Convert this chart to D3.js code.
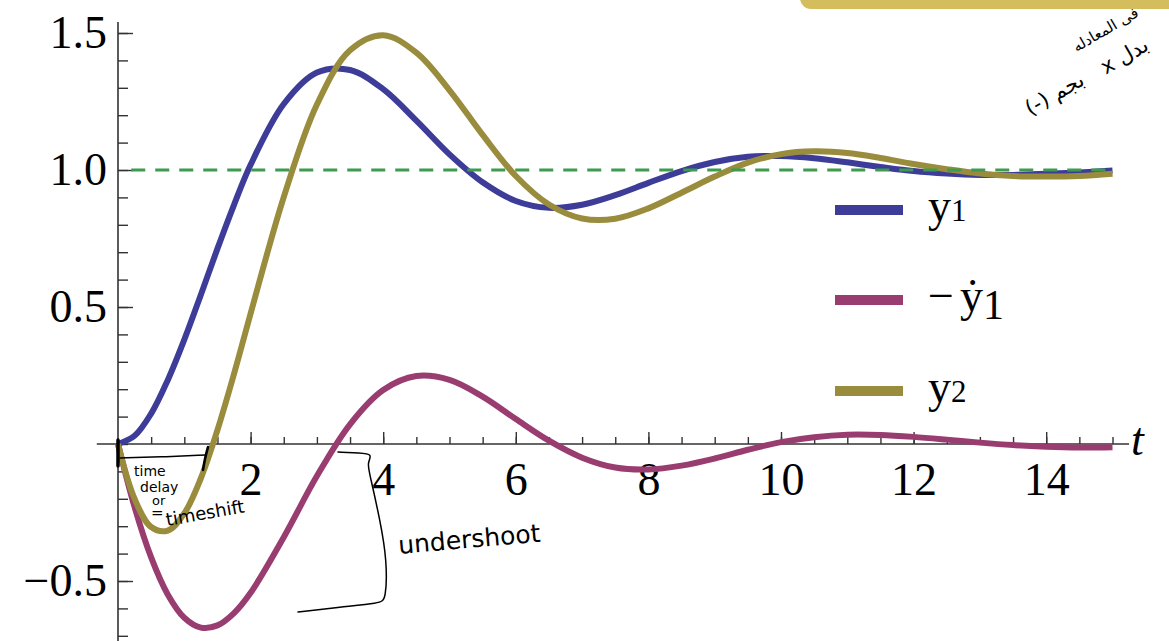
<!DOCTYPE html>
<html>
<head>
<meta charset="utf-8">
<script src="https://cdnjs.cloudflare.com/ajax/libs/d3/7.8.5/d3.min.js"></script>
<style>
  body { margin: 0; background: #fff; }
  svg { display: block; }
</style>
</head>
<body>
<svg id="chart" width="1169" height="641"></svg>
<script>
//data ------------------------------------------------------------------
var tValues = [0, 0.25, 0.5, 0.75, 1, 1.25, 1.5, 1.75, 2, 2.5, 3, 3.5, 4, 4.5, 5, 5.5, 6, 6.5,
  7, 7.5, 8, 8.5, 9, 9.5, 10, 10.5, 11, 11.5, 12, 12.5, 13, 13.5, 14, 14.5, 15];

var y1Values = [0, 0.030, 0.111, 0.233, 0.381, 0.545, 0.713, 0.873, 1.019, 1.241, 1.356, 1.365,
  1.295, 1.180, 1.057, 0.955, 0.887, 0.862, 0.873, 0.908, 0.953, 0.996, 1.029, 1.048, 1.051,
  1.043, 1.028, 1.011, 0.996, 0.987, 0.982, 0.982, 0.986, 0.991, 0.998];

var negDy1Values = [0, -0.230, -0.414, -0.549, -0.634, -0.670, -0.662, -0.617, -0.543, -0.340,
  -0.117, 0.072, 0.197, 0.248, 0.234, 0.173, 0.091, 0.012, -0.050, -0.086, -0.093, -0.079,
  -0.053, -0.021, 0.007, 0.025, 0.034, 0.033, 0.026, 0.016, 0.005, -0.004, -0.010, -0.013, -0.012];

var y2Values = [0, -0.200, -0.303, -0.316, -0.253, -0.125, 0.051, 0.256, 0.476, 0.901, 1.239,
  1.437, 1.492, 1.428, 1.291, 1.128, 0.978, 0.874, 0.823, 0.822, 0.860, 0.917, 0.976, 1.027,
  1.058, 1.068, 1.062, 1.044, 1.022, 1.003, 0.987, 0.978, 0.976, 0.978, 0.986];

var setpoint = 1;

var xMajorTicks = [2, 4, 6, 8, 10, 12, 14];
var yMajorTicks = [-0.5, 0.5, 1.0, 1.5];

var seriesNames = ['y1', '-dy1', 'y2'];
var seriesColors = ['#3d3d99', '#993d71', '#998c3d'];

//canvas + scales -------------------------------------------------------
var svg = d3.select('#chart');
var serif = '"Liberation Serif", "DejaVu Serif", serif';
var hand = '"DejaVu Sans", sans-serif';

var x = d3.scaleLinear().domain([0, 15]).range([118, 1112.5]);
var y = d3.scaleLinear().domain([-0.5, 1.5]).range([581, 33]);

//axes ------------------------------------------------------------------
var axisColor = '#333';

//x minor + major ticks (pointing up)
svg.append('g')
  .attr('transform', 'translate(0,' + y(0) + ')')
  .call(d3.axisTop(x).tickValues(d3.range(0.5, 15.01, 0.5)).tickSize(7).tickFormat(''))
  .call(function(g){ g.select('.domain').remove(); });

svg.append('g')
  .attr('transform', 'translate(0,' + y(0) + ')')
  .call(d3.axisTop(x).tickValues(xMajorTicks).tickSize(12).tickFormat(''))
  .call(function(g){ g.select('.domain').remove(); });

//x labels
svg.append('g')
  .attr('transform', 'translate(0,' + y(0) + ')')
  .call(d3.axisBottom(x).tickValues(xMajorTicks).tickSize(0).tickPadding(18))
  .call(function(g){ g.select('.domain').remove(); })
  .selectAll('text')
    .attr('font-family', serif)
    .attr('font-size', 46)
    .attr('fill', '#000');

//y minor + major ticks (pointing right)
svg.append('g')
  .attr('transform', 'translate(' + x(0) + ',0)')
  .call(d3.axisRight(y).tickValues(d3.range(-0.7, 1.55, 0.1)).tickSize(10).tickFormat(''))
  .call(function(g){ g.select('.domain').remove(); });

svg.append('g')
  .attr('transform', 'translate(' + x(0) + ',0)')
  .call(d3.axisRight(y).tickValues(yMajorTicks).tickSize(15).tickFormat(''))
  .call(function(g){ g.select('.domain').remove(); });

//y labels
svg.append('g')
  .attr('transform', 'translate(' + x(0) + ',0)')
  .call(d3.axisLeft(y).tickValues(yMajorTicks).tickSize(0).tickPadding(11).tickFormat(d3.format('.1f')))
  .call(function(g){ g.select('.domain').remove(); })
  .selectAll('text')
    .attr('font-family', serif)
    .attr('font-size', 46)
    .attr('fill', '#000');

svg.selectAll('.tick line').attr('stroke', axisColor).attr('stroke-width', 1.4);

//axis lines
svg.append('line')
  .attr('x1', x(-0.32)).attr('x2', x(15.25))
  .attr('y1', y(0)).attr('y2', y(0))
  .attr('stroke', axisColor).attr('stroke-width', 1.6);

svg.append('line')
  .attr('x1', x(0)).attr('x2', x(0))
  .attr('y1', y(1.54)).attr('y2', 641)
  .attr('stroke', axisColor).attr('stroke-width', 1.6);

svg.append('text')
  .attr('x', 1131).attr('y', 455)
  .attr('font-family', serif).attr('font-style', 'italic').attr('font-size', 46)
  .text('t');

//curves ----------------------------------------------------------------
var line = d3.line()
  .x(function(d){ return x(d[0]); })
  .y(function(d){ return y(d[1]); })
  .curve(d3.curveCatmullRom.alpha(0.5));

[y1Values, negDy1Values, y2Values].forEach(function(vals, i){
  svg.append('path')
    .datum(d3.zip(tValues, vals))
    .attr('d', line)
    .attr('fill', 'none')
    .attr('stroke', seriesColors[i])
    .attr('stroke-width', 6)
    .attr('stroke-linejoin', 'round');
});

//set point
svg.append('line')
  .attr('x1', x(0.2)).attr('x2', x(15))
  .attr('y1', y(setpoint)).attr('y2', y(setpoint))
  .attr('stroke', '#3d9a4f').attr('stroke-width', 3.2)
  .attr('stroke-dasharray', '14,10');

//legend ----------------------------------------------------------------
var legendY = [210, 300, 391];
var legend = svg.selectAll('.legend')
  .data(seriesNames)
  .enter().append('g')
    .attr('class', 'legend')
    .attr('transform', function(d, i){ return 'translate(0,' + legendY[i] + ')'; });

legend.append('line')
  .attr('x1', 835).attr('x2', 903)
  .attr('stroke', function(d, i){ return seriesColors[i]; })
  .attr('stroke-width', 10);

var lt = legend.append('text')
  .attr('x', 928).attr('y', 11)
  .attr('font-family', serif).attr('font-size', 46);

lt.each(function(d){
  var t = d3.select(this);
  if(d === '-dy1'){
    t.append('tspan').text('\u2212');
    t.append('tspan').attr('dx', 6).text('\u1E8F');
    t.append('tspan').attr('font-size', 42).attr('dy', 8).text('1');
  } else {
    t.append('tspan').text('y');
    t.append('tspan').attr('font-size', 31).text(d.slice(1));
  }
});

//notes scribbled on top ------------------------------------------------
svg.append('rect')
  .attr('x', 800).attr('y', -20).attr('width', 400).attr('height', 29).attr('rx', 11)
  .attr('fill', '#d3bd5c');

var pen = d3.line().curve(d3.curveBasis);
var strokes = [
  [[118, 440], [118, 466]],
  [[120, 458], [160, 457], [206, 455]],
  [[203, 470], [205, 458], [208, 447]],
  [[338, 452], [360, 453], [373, 454], [367, 463], [370, 475], [380, 520], [387, 560], [386, 600], [380, 603], [340, 607], [298, 612]]
];
strokes.forEach(function(s, i){
  svg.append('path')
    .attr('d', pen(s))
    .attr('fill', 'none')
    .attr('stroke', '#000')
    .attr('stroke-width', i === 0 ? 3.5 : (i === 2 ? 2.6 : 1.5))
    .attr('stroke-linecap', 'round');
});

var notes = [
  {text: 'time', x: 134, y: 476, size: 14, rot: 0},
  {text: 'delay', x: 140, y: 492, size: 14, rot: 0},
  {text: 'or', x: 152, y: 505, size: 13, rot: 0},
  {text: '=', x: 151, y: 518, size: 15, rot: 0},
  {text: 'timeshift', x: 167, y: 526, size: 18, rot: -10},
  {text: 'undershoot', x: 399, y: 554, size: 25, rot: -5}
];
notes.forEach(function(n){
  svg.append('text')
    .attr('transform', 'translate(' + n.x + ',' + n.y + ') rotate(' + n.rot + ')')
    .attr('font-family', hand).attr('font-size', n.size)
    .attr('fill', '#000')
    .text(n.text);
});

//written left-to-right in visual order so the latin bits land on the left
var farsi = [
  {text: 'فى المعادله', x: 1108, y: 34, size: 15},
  {text: 'x بدل', x: 1128, y: 62, size: 21},
  {text: '(-) بجم', x: 1058, y: 100, size: 21}
];
farsi.forEach(function(n){
  svg.append('text')
    .attr('transform', 'translate(' + n.x + ',' + n.y + ') rotate(-30)')
    .attr('text-anchor', 'middle')
    .attr('font-family', hand).attr('font-size', n.size)
    .attr('fill', '#000')
    .text(n.text);
});
</script>
</body>
</html>
